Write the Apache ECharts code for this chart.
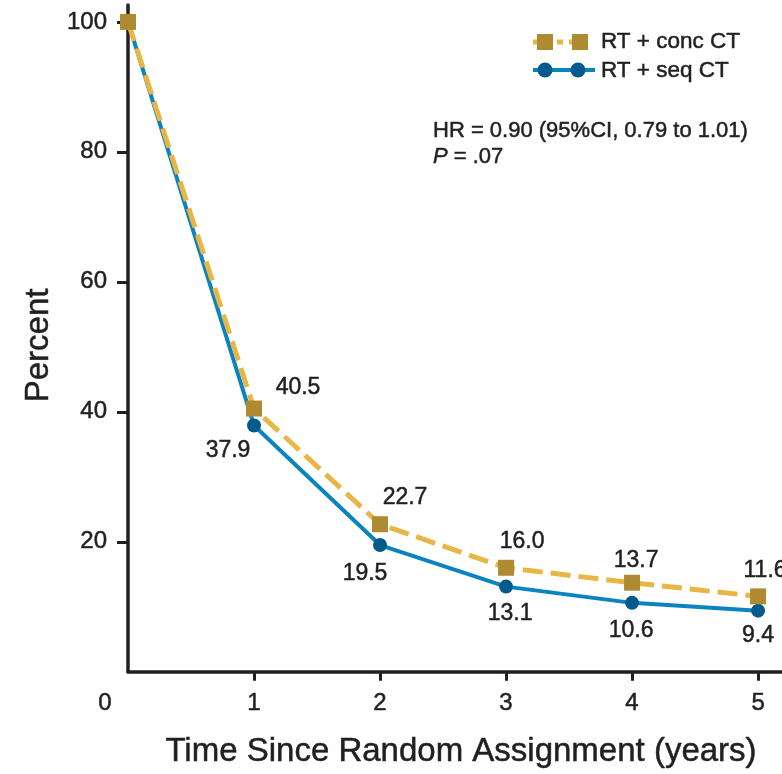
<!DOCTYPE html>
<html>
<head>
<meta charset="utf-8">
<script src="https://cdn.jsdelivr.net/npm/echarts@6/dist/echarts.min.js"></script>
<style>
  html, body { margin: 0; padding: 0; background: #fff; }
  #chart { width: 782px; height: 774px; }
</style>
</head>
<body>
<div id="chart"></div>
<script>
// Survival by year since random assignment
const years = [0, 1, 2, 3, 4, 5];
const concCT = [100, 40.5, 22.7, 16.0, 13.7, 11.6];   // RT + conc CT
const seqCT  = [100, 37.9, 19.5, 13.1, 10.6, 9.4];    // RT + seq CT
const yTickValues = [20, 40, 60, 80, 100];
const xTickValues = [1, 2, 3, 4, 5];
const xLabelValues = [0, 1, 2, 3, 4, 5];
const seriesNames = ['RT + conc CT', 'RT + seq CT'];

// label placement relative to each marker (px)
const concLabelOffset = [null, [44, -21], [25, -27], [16, -26], [4, -22], [7, -26]];
const seqLabelOffset  = [null, [-26, 25], [-15, 29], [4, 27], [-1, 28], [0, 25]];

const FONT = 'Liberation Sans, Arial, sans-serif';
const INK = '#231F20';
const GOLD_MARK = '#AE8B30';
const GOLD_LINE = '#E9B646';
const BLUE_MARK = '#005A8C';
const BLUE_LINE = '#0A83C1';
// a hairline outline gives the text a slightly heavier weight
const HEAVY = { textBorderColor: INK, textBorderWidth: 0.5 };

function buildData(vals, offsets) {
  return years.map((t, i) => ({
    value: [t, vals[i]],
    label: offsets[i] ? { show: true, offset: offsets[i] } : { show: false }
  }));
}

const chart = echarts.init(document.getElementById('chart'), null, { renderer: 'canvas' });

const labelStyle = Object.assign({
  position: 'inside',
  align: 'center',
  verticalAlign: 'middle',
  color: INK,
  fontFamily: FONT,
  fontSize: 23,
  formatter: p => p.value[1].toFixed(1)
}, HEAVY);

chart.setOption({
  animation: false,
  backgroundColor: '#fff',
  grid: { left: 128, right: 0, top: 5, bottom: 102, containLabel: false },
  xAxis: {
    type: 'value',
    min: 0,
    max: 5.19,
    interval: 1,
    name: 'Time Since Random Assignment (years)',
    nameLocation: 'middle',
    nameGap: 64,
    nameTextStyle: Object.assign({ color: INK, fontFamily: FONT, fontSize: 33, padding: [0, 0, 0, 12] }, HEAVY),
    axisLine: { show: true, lineStyle: { color: INK, width: 3.5 } },
    axisTick: { show: true, length: 9, lineStyle: { color: INK, width: 3 }, customValues: xTickValues },
    axisLabel: Object.assign({
      color: INK, fontFamily: FONT, fontSize: 24, margin: 20,
      customValues: xLabelValues,
      formatter: v => v === 0 ? '{z|0}' : String(v),
      rich: { z: Object.assign({ color: INK, fontFamily: FONT, fontSize: 24, padding: [0, 46, 0, 0] }, HEAVY) }
    }, HEAVY),
    splitLine: { show: false }
  },
  yAxis: {
    type: 'value',
    min: 0,
    max: 102.6,
    interval: 20,
    name: 'Percent',
    nameLocation: 'middle',
    nameGap: 72,
    nameRotate: 90,
    nameTextStyle: Object.assign({ color: INK, fontFamily: FONT, fontSize: 33, padding: [0, 14, 0, 0] }, HEAVY),
    axisLine: { show: true, lineStyle: { color: INK, width: 3.5 } },
    axisTick: { show: true, length: 11, lineStyle: { color: INK, width: 3 }, customValues: yTickValues },
    axisLabel: Object.assign({ color: INK, fontFamily: FONT, fontSize: 24, margin: 21, customValues: yTickValues }, HEAVY),
    splitLine: { show: false }
  },
  series: [
    {
      name: seriesNames[1],
      type: 'line',
      data: buildData(seqCT, seqLabelOffset),
      symbol: 'circle',
      symbolSize: 14,
      itemStyle: { color: BLUE_MARK },
      lineStyle: { color: BLUE_LINE, width: 4 },
      label: labelStyle,
      z: 2
    },
    {
      name: seriesNames[0],
      type: 'line',
      data: buildData(concCT, concLabelOffset),
      symbol: 'rect',
      symbolSize: 16,
      itemStyle: { color: GOLD_MARK },
      lineStyle: { color: GOLD_LINE, width: 5, type: [20, 8] },
      label: labelStyle,
      z: 3
    }
  ],
  graphic: [
    // legend: RT + conc CT
    { type: 'line', shape: { x1: 533, y1: 42, x2: 592, y2: 42 },
      style: { stroke: GOLD_LINE, lineWidth: 5, lineDash: [6, 6] }, z: 10 },
    { type: 'rect', shape: { x: 537, y: 34, width: 16, height: 16 }, style: { fill: GOLD_MARK }, z: 11 },
    { type: 'rect', shape: { x: 572, y: 34, width: 16, height: 16 }, style: { fill: GOLD_MARK }, z: 11 },
    { type: 'text', x: 601, y: 42,
      style: { text: seriesNames[0], fill: INK, stroke: INK, lineWidth: 0.5, font: '22.5px ' + FONT, verticalAlign: 'middle' }, z: 11 },
    // legend: RT + seq CT
    { type: 'line', shape: { x1: 533, y1: 70, x2: 595, y2: 70 },
      style: { stroke: BLUE_LINE, lineWidth: 4 }, z: 10 },
    { type: 'circle', shape: { cx: 545, cy: 70, r: 7.5 }, style: { fill: BLUE_MARK }, z: 11 },
    { type: 'circle', shape: { cx: 578, cy: 70, r: 7.5 }, style: { fill: BLUE_MARK }, z: 11 },
    { type: 'text', x: 601, y: 71,
      style: { text: seriesNames[1], fill: INK, stroke: INK, lineWidth: 0.5, font: '22.5px ' + FONT, verticalAlign: 'middle' }, z: 11 },
    // hazard ratio annotation
    { type: 'text', x: 433, y: 131,
      style: { text: 'HR = 0.90 (95%CI, 0.79 to 1.01)', fill: INK, stroke: INK, lineWidth: 0.5, font: '22px ' + FONT, verticalAlign: 'middle' }, z: 11 },
    { type: 'text', x: 433, y: 157,
      style: {
        text: '{i|P} = .07', fill: INK, stroke: INK, lineWidth: 0.5, font: '22px ' + FONT, verticalAlign: 'middle',
        rich: { i: { fontStyle: 'italic', fontFamily: FONT, fontSize: 22, fill: INK, stroke: INK, lineWidth: 0.5 } }
      }, z: 11 }
  ]
});
</script>
</body>
</html>
